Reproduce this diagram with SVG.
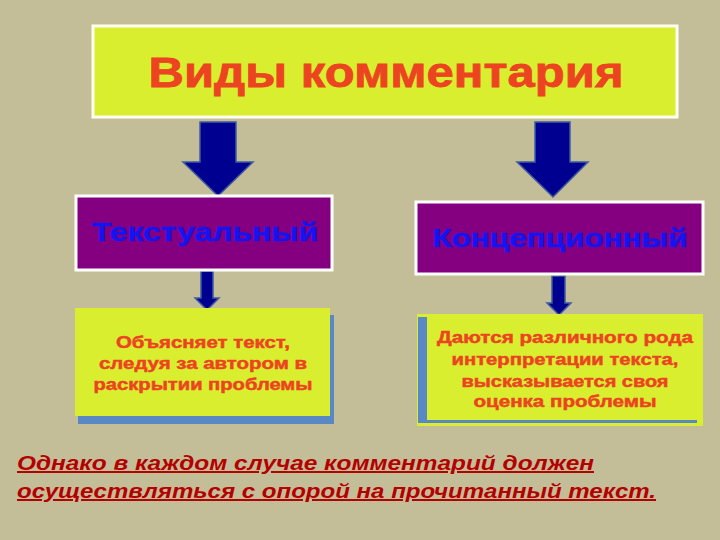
<svg xmlns="http://www.w3.org/2000/svg" width="720" height="540" viewBox="0 0 720 540">
<style>
.bg{fill:#C4BE98}
.title{fill:#DAEE30;stroke:#FFFFF2;stroke-width:3}
.ttl{font-family:"Liberation Sans",Arial,sans-serif;font-weight:bold;font-size:43px;fill:#EC4420;stroke:#EC4420;stroke-width:0.8;text-anchor:middle}
.kind{fill:#840080;stroke:#FFFFFF;stroke-width:3}
.kt{font-family:"Liberation Sans",Arial,sans-serif;font-weight:bold;font-size:25px;fill:#1414F0;stroke:#1414F0;stroke-width:0.5;text-anchor:middle}
.arrow{fill:#000090;stroke:#3E5C9E;stroke-width:1.5}
.note{fill:#DAEE30}
.shadow{fill:#5A88C4}
.nt{font-family:"Liberation Sans",Arial,sans-serif;font-weight:bold;font-size:17px;fill:#EC4420;stroke:#EC4420;stroke-width:0.5;text-anchor:middle}
.bt{font-family:"Liberation Sans",Arial,sans-serif;font-weight:bold;font-style:italic;font-size:20px;fill:#B40000;text-decoration:underline}
</style>
<rect class="bg" x="0" y="0" width="720" height="540"/>
<g id="title">
<rect class="title" x="93" y="26" width="584" height="91"/>
<text class="ttl" x="386" y="87" textLength="475" lengthAdjust="spacingAndGlyphs">Виды комментария</text>
</g>
<g id="connectors">
<polygon class="arrow" points="200,122 236,122 236,162 253,162 218,196 183,162 200,162"/>
<polygon class="arrow" points="535,122 570,122 570,162 588,162 553,197 517,162 535,162"/>
<polygon class="arrow" points="201,271 213,271 213,298 219,298 207,310 195,298 201,298"/>
<polygon class="arrow" points="552,276 565,276 565,303 571,303 559,315 547,303 552,303"/>
</g>
<g id="textual">
<rect class="kind" x="76" y="196" width="256" height="74"/>
<text class="kt" x="205" y="241" textLength="226" lengthAdjust="spacingAndGlyphs">Текстуальный</text>
</g>
<g id="conceptual">
<rect class="kind" x="416" y="202" width="287" height="72"/>
<text class="kt" x="560" y="247" textLength="255" lengthAdjust="spacingAndGlyphs">Концепционный</text>
</g>
<g id="explains">
<rect class="shadow" x="78" y="315" width="256" height="109"/>
<rect class="note" x="75" y="308" width="255" height="108"/>
<text class="nt" x="203" y="348" textLength="174" lengthAdjust="spacingAndGlyphs">Объясняет текст,</text>
<text class="nt" x="203" y="369" textLength="208" lengthAdjust="spacingAndGlyphs">следуя за автором в</text>
<text class="nt" x="203" y="390" textLength="219" lengthAdjust="spacingAndGlyphs">раскрытии проблемы</text>
</g>
<g id="interprets">
<rect class="note" x="417" y="314" width="286" height="112"/>
<rect class="shadow" x="418" y="317" width="9" height="106"/>
<rect class="shadow" x="418" y="420" width="279" height="3"/>
<text class="nt" x="565" y="343" textLength="256" lengthAdjust="spacingAndGlyphs">Даются различного рода</text>
<text class="nt" x="565" y="365" textLength="227" lengthAdjust="spacingAndGlyphs">интерпретации текста,</text>
<text class="nt" x="565" y="387" textLength="207" lengthAdjust="spacingAndGlyphs">высказывается своя</text>
<text class="nt" x="565" y="407" textLength="183" lengthAdjust="spacingAndGlyphs">оценка проблемы</text>
</g>
<g id="conclusion">
<text class="bt" x="17" y="470" textLength="577" lengthAdjust="spacingAndGlyphs">Однако в каждом случае комментарий должен  </text>
<text class="bt" x="17" y="498" textLength="639" lengthAdjust="spacingAndGlyphs">осуществляться с опорой на прочитанный текст.</text>
</g>
</svg>
